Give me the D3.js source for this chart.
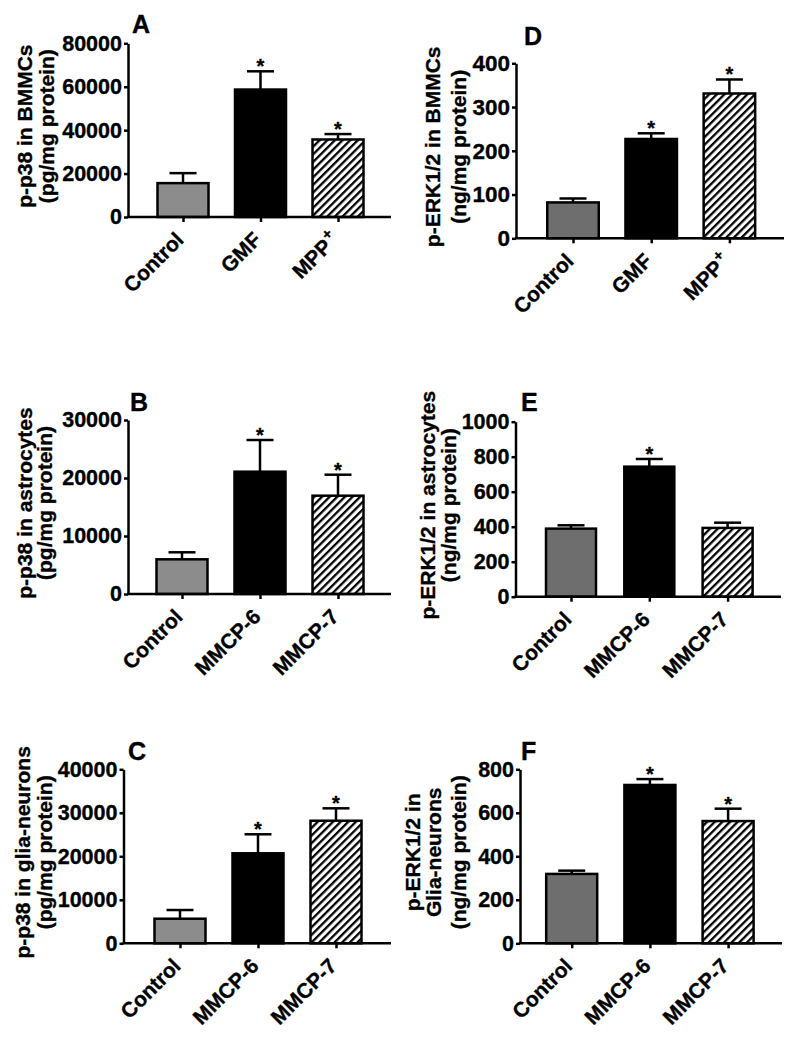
<!DOCTYPE html>
<html><head><meta charset="utf-8">
<script src="https://cdn.jsdelivr.net/npm/d3@7"></script>
<style>
html,body{margin:0;padding:0;background:#fff;}
svg{display:block;font-family:"Liberation Sans",Arial,sans-serif;font-weight:bold;}
svg text{stroke:#000;stroke-width:0.35px;}
</style></head>
<body>
<svg id="chart" width="792" height="1040"></svg>
<script>
// ---- data ----
const catsGMF = ["Control", "GMF", "MPP"];
const catsMMCP = ["Control", "MMCP-6", "MMCP-7"];

const p38BMMC = [15600, 58700, 35700];
const p38BMMCErr = [4600, 8400, 2500];
const p38BMMCSig = [false, true, true];

const erkBMMC = [82, 227, 331];
const erkBMMCErr = [9, 13, 32];
const erkBMMCSig = [false, true, true];

const p38Astro = [5980, 21090, 16950];
const p38AstroErr = [1210, 5460, 3620];
const p38AstroSig = [false, true, true];

const erkAstro = [389, 743, 393];
const erkAstroErr = [19, 44, 30];
const erkAstroSig = [false, true, false];

const p38Glia = [5650, 20690, 28180];
const p38GliaErr = [2000, 4370, 2850];
const p38GliaSig = [false, true, true];

const erkGlia = [319, 728, 562];
const erkGliaErr = [15, 27, 57];
const erkGliaSig = [false, true, true];

const ticksA = [0, 20000, 40000, 60000, 80000];
const ticksD = [0, 100, 200, 300, 400];
const ticksB = [0, 10000, 20000, 30000];
const ticksE = [0, 200, 400, 600, 800, 1000];
const ticksC = [0, 10000, 20000, 30000, 40000];
const ticksF = [0, 200, 400, 600, 800];

// ---- layout ----
const panels = [
  {letter:"A", cats:catsGMF, vals:p38BMMC, errs:p38BMMCErr, sig:p38BMMCSig, ticks:ticksA,
   x0:128, x1:391, yTop:43.3, yBot:217, tick0:183, step:77.5, bw:51, ctrl:"#8c8c8c",
   title:["p-p38 in BMMCs","(pg/mg protein)"], titleX:[25,47], lx:132, ly:33, plus:true},
  {letter:"D", cats:catsGMF, vals:erkBMMC, errs:erkBMMCErr, sig:erkBMMCSig, ticks:ticksD,
   x0:516, x1:784, yTop:63.3, yBot:238.3, tick0:573, step:78.2, bw:51.5, ctrl:"#6e6e6e",
   title:["p-ERK1/2 in BMMCs","(ng/mg protein)"], titleX:[433,459], lx:524, ly:45, plus:true, tfs:22.5},
  {letter:"B", cats:catsMMCP, vals:p38Astro, errs:p38AstroErr, sig:p38AstroSig, ticks:ticksB,
   x0:128, x1:391, yTop:420, yBot:594, tick0:182, step:78, bw:51, ctrl:"#8c8c8c",
   title:["p-p38 in astrocytes","(pg/mg protein)"], titleX:[25,45], lx:130, ly:411},
  {letter:"E", cats:catsMMCP, vals:erkAstro, errs:erkAstroErr, sig:erkAstroSig, ticks:ticksE,
   x0:515.5, x1:781, yTop:421.7, yBot:596.7, tick0:571, step:78.3, bw:50, ctrl:"#6e6e6e",
   title:["p-ERK1/2 in astrocytes","(ng/mg protein)"], titleX:[428,449], lx:521, ly:411},
  {letter:"C", cats:catsMMCP, vals:p38Glia, errs:p38GliaErr, sig:p38GliaSig, ticks:ticksC,
   x0:123.5, x1:391, yTop:769.3, yBot:943.3, tick0:180, step:78, bw:51, ctrl:"#8c8c8c",
   title:["p-p38 in glia-neurons","(pg/mg protein)"], titleX:[23,45], lx:128, ly:760},
  {letter:"F", cats:catsMMCP, vals:erkGlia, errs:erkGliaErr, sig:erkGliaSig, ticks:ticksF,
   x0:520, x1:782, yTop:769.3, yBot:943.3, tick0:571.7, step:78.2, bw:51, ctrl:"#6e6e6e",
   title:["p-ERK1/2 in","Glia-neurons","(ng/mg protein)"], titleX:[413,434,459], lx:521, ly:760}
];

const svg = d3.select("#chart");
const defs = svg.append("defs");
const pat = defs.append("pattern").attr("id","hatch").attr("patternUnits","userSpaceOnUse")
  .attr("width",5.4).attr("height",5.4).attr("patternTransform","rotate(45)");
pat.append("rect").attr("width",5.4).attr("height",5.4).attr("fill","#fff");
pat.append("rect").attr("width",2.3).attr("height",5.4).attr("fill","#000");

const SW = 2.5;

panels.forEach(p => {
  const g = svg.append("g");
  const y = d3.scaleLinear().domain([0, p.ticks[p.ticks.length-1]]).range([p.yBot, p.yTop]);
  const x = d3.scalePoint().domain(p.cats).range([p.tick0, p.tick0 + 2*p.step]);
  const fills = [p.ctrl, "#000", "url(#hatch)"];

  // bars
  g.selectAll("rect.bar").data(p.vals).enter().append("rect")
    .attr("x",(d,i)=>x(p.cats[i]) - p.bw/2)
    .attr("y",d=>y(d))
    .attr("width",p.bw)
    .attr("height",d=>y(0)-y(d))
    .attr("fill",(d,i)=>fills[i])
    .attr("stroke","#000").attr("stroke-width",SW);

  // error bars
  p.vals.forEach((v,i)=>{
    const cx = x(p.cats[i]);
    const top = y(v + p.errs[i]);
    g.append("line").attr("x1",cx).attr("x2",cx).attr("y1",y(v)).attr("y2",top)
      .attr("stroke","#000").attr("stroke-width",SW);
    g.append("line").attr("x1",cx-13.5).attr("x2",cx+13.5).attr("y1",top).attr("y2",top)
      .attr("stroke","#000").attr("stroke-width",SW);
    if (p.sig[i]) {
      g.append("text").attr("x",cx).attr("y",top+2).attr("text-anchor","middle")
        .attr("font-size",20).text("*");
    }
  });

  // y axis
  const ya = g.append("g").attr("transform",`translate(${p.x0},0)`)
    .call(d3.axisLeft(y).tickValues(p.ticks).tickSize(4).tickSizeOuter(0).tickPadding(2).tickFormat(d3.format("d")));
  ya.select(".domain").attr("stroke-width",SW);
  ya.selectAll(".tick line").attr("stroke-width",SW);
  ya.selectAll(".tick text").attr("font-size",p.tfs||21.5).attr("font-family",null).attr("fill","#000");

  // x axis
  const xa = g.append("g").attr("transform",`translate(0,${p.yBot})`)
    .call(d3.axisBottom(x).tickSize(5).tickFormat(""));
  xa.select(".domain").remove();
  xa.selectAll(".tick line").attr("stroke-width",SW);
  g.append("line").attr("x1",p.x0-1).attr("x2",p.x1).attr("y1",p.yBot).attr("y2",p.yBot)
    .attr("stroke","#000").attr("stroke-width",SW);

  // x labels
  p.cats.forEach(c=>{
    const t = g.append("text")
      .attr("transform",`translate(${x(c)+2},${p.yBot+24}) rotate(-45)`)
      .attr("text-anchor","end").attr("font-size",21).text(c);
    if (p.plus && c==="MPP") {
      t.append("tspan").attr("font-size",15).attr("dy",-9).attr("dx",1).text("+");
    }
  });

  // y title
  const cy = (p.yTop + p.yBot)/2 - 4;
  p.title.forEach((line,k)=>{
    g.append("text").attr("transform",`translate(${p.titleX[k]},${cy}) rotate(-90)`)
      .attr("text-anchor","middle").attr("dy","0.35em").attr("font-size",21).text(line);
  });

  // letter
  g.append("text").attr("x",p.lx).attr("y",p.ly).attr("font-size",25).text(p.letter);
});
</script>
</body></html>
